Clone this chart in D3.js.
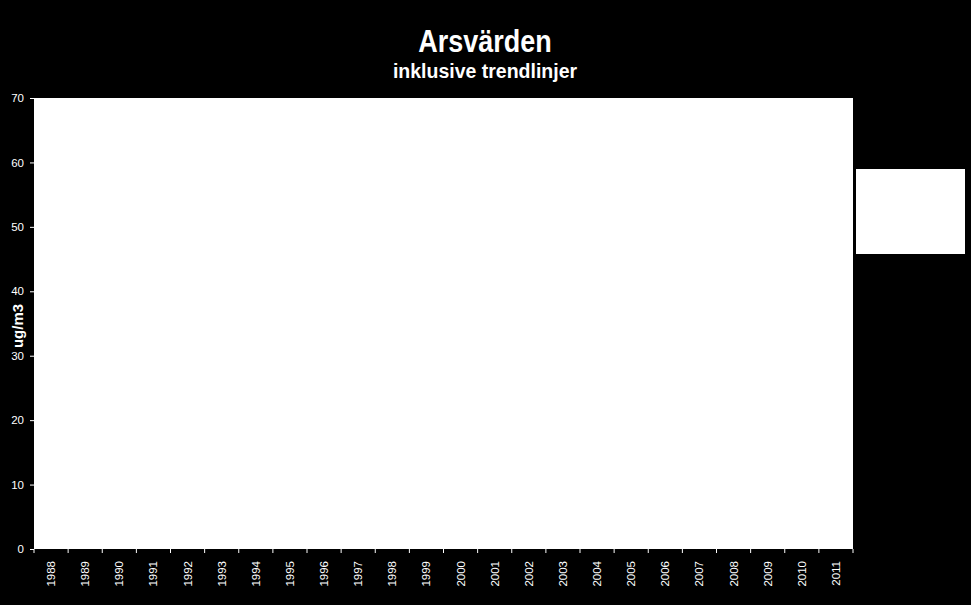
<!DOCTYPE html>
<html>
<head>
<meta charset="utf-8">
<script src="https://cdn.jsdelivr.net/npm/d3@7"></script>
<style>
  body { margin: 0; background: #000; }
  svg { display: block; font-family: "Liberation Sans", Arial, sans-serif; }
</style>
</head>
<body>
<script>
const width = 971,
  height = 605,
  marginTop = 98,
  marginRight = 118,
  marginBottom = 56,
  marginLeft = 34;

// categories (years) and y ticks
const years = d3.range(1988, 2012).map(String);
const yTicks = [0, 10, 20, 30, 40, 50, 60, 70];
// no series values are visible in the reference
const series = [];

const x = d3.scaleBand()
  .domain(years)
  .range([marginLeft, width - marginRight]);
const y = d3.scaleLinear()
  .domain([0, 70])
  .range([height - marginBottom, marginTop]);

const svg = d3.select("body").append("svg")
  .attr("width", width)
  .attr("height", height);

svg.append("rect")
  .attr("width", width).attr("height", height)
  .attr("fill", "#000");

// plot area
svg.append("rect")
  .attr("x", marginLeft)
  .attr("y", marginTop)
  .attr("width", width - marginRight - marginLeft)
  .attr("height", height - marginBottom - marginTop)
  .attr("fill", "#fff");

// title (reference font is taller than it is wide)
svg.append("text")
  .attr("transform", "translate(485,52) scale(1,1.18)")
  .attr("text-anchor", "middle")
  .attr("fill", "#fff")
  .attr("font-weight", "bold")
  .attr("font-size", 27)
  .text("Arsvärden");
svg.append("text")
  .attr("x", 485).attr("y", 78)
  .attr("text-anchor", "middle")
  .attr("fill", "#fff")
  .attr("font-weight", "bold")
  .attr("font-size", 19.5)
  .text("inklusive trendlinjer");

// y axis
const yAxis = svg.append("g")
  .attr("transform", `translate(${marginLeft},0)`)
  .call(d3.axisLeft(y).tickValues(yTicks).tickSize(4).tickSizeOuter(0).tickPadding(6));
yAxis.select(".domain").remove();
yAxis.selectAll("line").attr("stroke", "#fff");
yAxis.selectAll("text")
  .attr("fill", "#fff")
  .attr("font-size", 11.5)
  .attr("font-family", "Liberation Sans, Arial, sans-serif");

// x axis: ticks on band edges
const xg = svg.append("g")
  .attr("transform", `translate(0,${height - marginBottom})`);
xg.selectAll("line.tick")
  .data(years.concat(["end"]))
  .join("line")
  .attr("x1", (d, i) => i < years.length ? x(d) : x(years[years.length - 1]) + x.bandwidth())
  .attr("x2", (d, i) => i < years.length ? x(d) : x(years[years.length - 1]) + x.bandwidth())
  .attr("y1", 0).attr("y2", 4)
  .attr("stroke", "#fff");
xg.selectAll("text")
  .data(years)
  .join("text")
  .attr("transform", d => `translate(${x(d) + x.bandwidth() / 2 + 4},12) rotate(-90)`)
  .attr("text-anchor", "end")
  .attr("fill", "#fff")
  .attr("font-size", 11.5)
  .text(d => d);

// y label
svg.append("text")
  .attr("transform", `translate(23,${326}) rotate(-90)`)
  .attr("text-anchor", "middle")
  .attr("fill", "#fff")
  .attr("font-weight", "bold")
  .attr("font-size", 15)
  .text("ug/m3");

// legend box (empty)
svg.append("rect")
  .attr("x", 856).attr("y", 169)
  .attr("width", 109).attr("height", 85)
  .attr("fill", "#fff");
</script>
</body>
</html>
